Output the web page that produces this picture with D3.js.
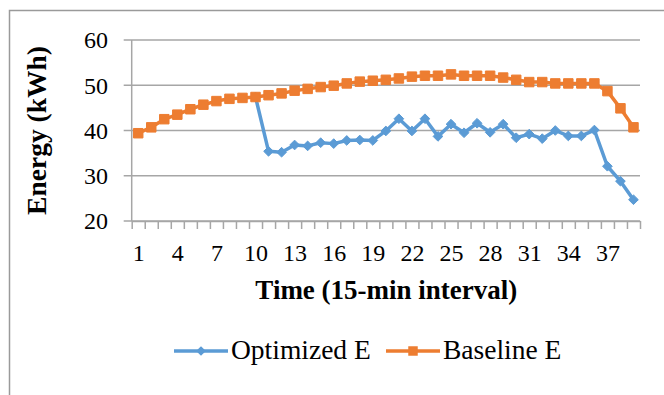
<!DOCTYPE html>
<html>
<head>
<meta charset="utf-8">
<script src="https://cdn.jsdelivr.net/npm/d3@7"></script>
<style>
  html, body { margin: 0; padding: 0; background: #fff; }
  svg { display: block; }
</style>
</head>
<body>
<svg id="chart" width="664" height="395"></svg>
<script>
// Interval index (15-min steps)
const intervals = d3.range(1, 40);
const xTickLabels = [1, 4, 7, 10, 13, 16, 19, 22, 25, 28, 31, 34, 37];
const yTicks = [20, 30, 40, 50, 60];

// Energy per interval, kWh
const baselineE = [39.4, 40.7, 42.5, 43.5, 44.7, 45.7, 46.5, 47.0, 47.2, 47.4,
                   47.8, 48.2, 48.8, 49.2, 49.6, 49.9, 50.4, 50.8, 51.0, 51.2,
                   51.5, 51.9, 52.1, 52.1, 52.4, 52.1, 52.1, 52.1, 51.7, 51.2,
                   50.7, 50.7, 50.4, 50.4, 50.4, 50.4, 48.7, 44.9, 40.7];
const optimizedE = [null, null, null, null, null, null, null, null, null, 47.4,
                    35.4, 35.2, 36.8, 36.6, 37.3, 37.1, 37.8, 37.9, 37.8, 39.9,
                    42.6, 39.9, 42.6, 38.7, 41.4, 39.5, 41.6, 39.6, 41.4, 38.4,
                    39.2, 38.2, 40.0, 38.8, 38.8, 40.1, 32.1, 28.8, 24.7];

const seriesNames = ["Optimized E", "Baseline E"];
const seriesColors = ["#5B9BD5", "#ED7D31"];

const FONT = "'Liberation Serif'";

const svg = d3.select("#chart").attr("font-family", "Liberation Serif");

// outer chart frame
svg.append("rect")
  .attr("x", 9.5).attr("y", 10.5)
  .attr("width", 680).attr("height", 400)
  .attr("fill", "none").attr("stroke", "#9a9a9a").attr("stroke-width", 1.5);

const plot = { left: 131.7, right: 640, top: 40, bottom: 221 };

const x = d3.scaleLinear().domain([0.5, 39.5]).range([plot.left, plot.right]);
const y = d3.scaleLinear().domain([20, 60]).range([plot.bottom, plot.top]);

// horizontal gridlines, extending left as tick marks
svg.append("g")
  .selectAll("line")
  .data(yTicks)
  .join("line")
  .attr("x1", plot.left - 8).attr("x2", plot.right)
  .attr("y1", d => y(d)).attr("y2", d => y(d))
  .attr("stroke", "#a6a6a6").attr("stroke-width", 1.5);

// y axis line
svg.append("line")
  .attr("x1", plot.left).attr("x2", plot.left)
  .attr("y1", plot.top).attr("y2", plot.bottom)
  .attr("stroke", "#a6a6a6").attr("stroke-width", 1.5);

// y tick labels
svg.append("g")
  .selectAll("text")
  .data(yTicks)
  .join("text")
  .attr("x", 108).attr("y", d => y(d))
  .attr("dy", "0.35em")
  .attr("text-anchor", "end")
  .attr("fill", "#000")
  .style("font-size", "24px")
  .style("font-family", FONT)
  .text(d => d);

// x axis: tick marks on interval boundaries
const xAxis = d3.axisBottom(x)
  .tickValues(d3.range(0.5, 40, 1))
  .tickSize(8)
  .tickSizeOuter(0)
  .tickFormat("");
const gx = svg.append("g").attr("transform", `translate(0,${plot.bottom})`).call(xAxis);
gx.selectAll("path, line").attr("stroke", "#a6a6a6").attr("stroke-width", 1.5);

// x tick labels at every third interval
const xLabels = d3.axisBottom(x).tickValues(xTickLabels).tickSize(0).tickFormat(d => d);
const gxl = svg.append("g").attr("transform", `translate(0,${plot.bottom})`).call(xLabels);
gxl.attr("font-family", null).attr("font-size", null);
gxl.select(".domain").remove();
gxl.selectAll("text")
  .attr("y", 23)
  .attr("dy", "0.71em")
  .attr("fill", "#000")
  .style("font-size", "24px")
  .style("font-family", FONT);

// axis titles
svg.append("text")
  .attr("transform", `translate(46,${(plot.top + plot.bottom) / 2}) rotate(-90)`)
  .attr("text-anchor", "middle")
  .attr("fill", "#000")
  .style("font-size", "27.5px").style("font-weight", "bold")
  .style("font-family", FONT)
  .text("Energy (kWh)");

svg.append("text")
  .attr("x", (plot.left + plot.right) / 2 + 0.5).attr("y", 299)
  .attr("text-anchor", "middle")
  .attr("fill", "#000")
  .style("font-size", "27px").style("font-weight", "bold")
  .style("font-family", FONT)
  .text("Time (15-min interval)");

// series
const line = d3.line()
  .defined(d => d.v != null)
  .x(d => x(d.i))
  .y(d => y(d.v));

const diamond = d3.symbol().type(d3.symbolDiamond2).size(60);
const square = d3.symbol().type(d3.symbolSquare).size(90);

const series = [
  { name: seriesNames[0], color: seriesColors[0], values: optimizedE, marker: diamond },
  { name: seriesNames[1], color: seriesColors[1], values: baselineE, marker: square }
];

series.forEach(s => {
  const pts = intervals.map((i, k) => ({ i, v: s.values[k] }));
  const g = svg.append("g");
  g.append("path")
    .datum(pts)
    .attr("d", line)
    .attr("fill", "none")
    .attr("stroke", s.color)
    .attr("stroke-width", 3.5)
    .attr("stroke-linejoin", "round");
  g.selectAll("path.mk")
    .data(pts.filter(d => d.v != null))
    .join("path")
    .attr("class", "mk")
    .attr("transform", d => `translate(${x(d.i)},${y(d.v)})`)
    .attr("d", s.marker)
    .attr("fill", s.color)
    .attr("stroke", s.color)
    .attr("stroke-width", 1);
});

// legend
const legendItems = [
  { x0: 174, name: seriesNames[0], color: seriesColors[0], marker: diamond },
  { x0: 386, name: seriesNames[1], color: seriesColors[1], marker: square }
];
const legY = 351;
const lg = svg.append("g");
legendItems.forEach(it => {
  lg.append("line")
    .attr("x1", it.x0).attr("x2", it.x0 + 54)
    .attr("y1", legY).attr("y2", legY)
    .attr("stroke", it.color).attr("stroke-width", 3.5);
  lg.append("path")
    .attr("transform", `translate(${it.x0 + 27},${legY})`)
    .attr("d", it.marker)
    .attr("fill", it.color);
  lg.append("text")
    .attr("x", it.x0 + 57).attr("y", legY + 8)
    .attr("fill", "#000")
    .style("font-size", "27.5px")
    .style("font-family", FONT)
    .text(it.name);
});
</script>
</body>
</html>
